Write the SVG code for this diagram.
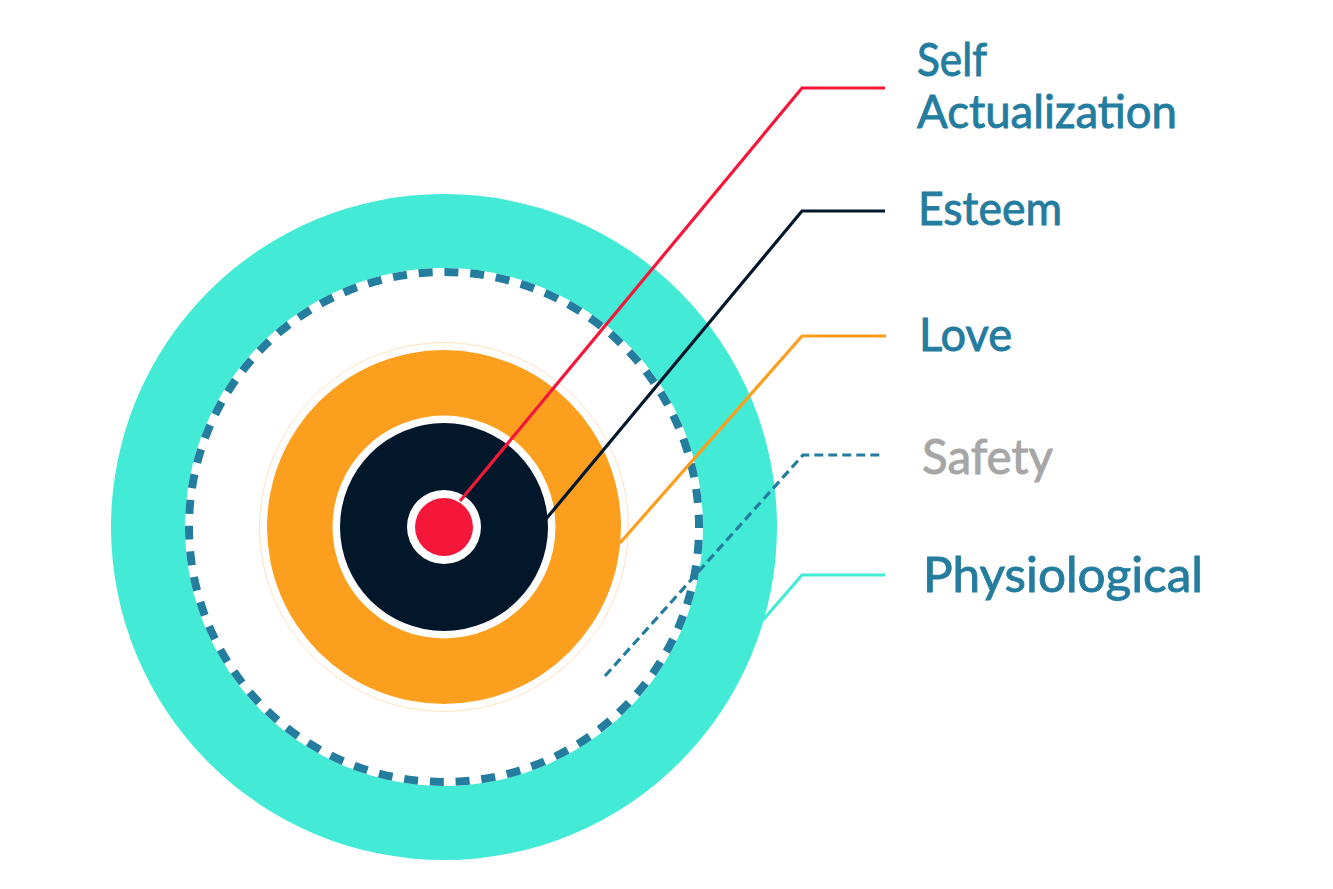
<svg xmlns="http://www.w3.org/2000/svg" width="1333" height="889" viewBox="0 0 1333 889">
<style>
.lbl{font-family:Lato,"Open Sans","Liberation Sans",sans-serif;fill:#247c9e;stroke:#247c9e;stroke-width:0.9;font-size:46px}
.conn{fill:none;stroke-width:3.2;stroke-linejoin:miter}
</style>
<rect width="1333" height="889" fill="#ffffff"/>
<g id="physiological">
<circle cx="444" cy="527" r="333" fill="#43ead5"/>
<circle cx="444" cy="527" r="259" fill="#ffffff"/>
</g>
<g id="safety">
<circle cx="444" cy="527" r="255" fill="none" stroke="#247c9e" stroke-width="8" stroke-dasharray="14 11.84" stroke-dashoffset="12.88"/>
</g>
<g id="love">
<circle cx="444" cy="527" r="184.5" fill="none" stroke="#fde3c2" stroke-width="1"/>
<circle cx="444" cy="527" r="177" fill="#fc9f1e"/>
</g>
<g id="esteem">
<circle cx="444" cy="527" r="111.5" fill="#ffffff"/>
<circle cx="444" cy="527" r="104" fill="#021729"/>
</g>
<g id="self-actualization">
<circle cx="444" cy="527" r="37" fill="#ffffff"/>
<circle cx="444" cy="527" r="29" fill="#f5173a"/>
</g>
<g id="connectors">
<polyline class="conn" stroke="#f5173a" points="460,501 802,88 885,88"/>
<polyline class="conn" stroke="#021729" points="546,519 802,211 885,211"/>
<polyline class="conn" stroke="#fc9f1e" points="620,543 802,336 886,336"/>
<polyline class="conn" stroke="#247c9e" stroke-width="3.5" stroke-dasharray="9 5" points="605,676 803,455 880,455"/>
<polyline class="conn" stroke="#43ead5" points="763,620 802,575 885,575"/>
</g>
<g id="labels">
<text class="lbl" x="917" y="76" textLength="70" lengthAdjust="spacingAndGlyphs">Self</text>
<text class="lbl" x="917" y="128" textLength="260" lengthAdjust="spacingAndGlyphs">Actualization</text>
<text class="lbl" x="918" y="225" textLength="144" lengthAdjust="spacingAndGlyphs">Esteem</text>
<text class="lbl" x="919" y="351" textLength="93" lengthAdjust="spacingAndGlyphs">Love</text>
<text class="lbl" x="922" y="474" style="fill:#a6a6a6;stroke:#a6a6a6;font-size:48px" textLength="131" lengthAdjust="spacingAndGlyphs">Safety</text>
<text class="lbl" x="923" y="592" style="font-size:49px" textLength="280" lengthAdjust="spacingAndGlyphs">Physiological</text>
</g>
</svg>
